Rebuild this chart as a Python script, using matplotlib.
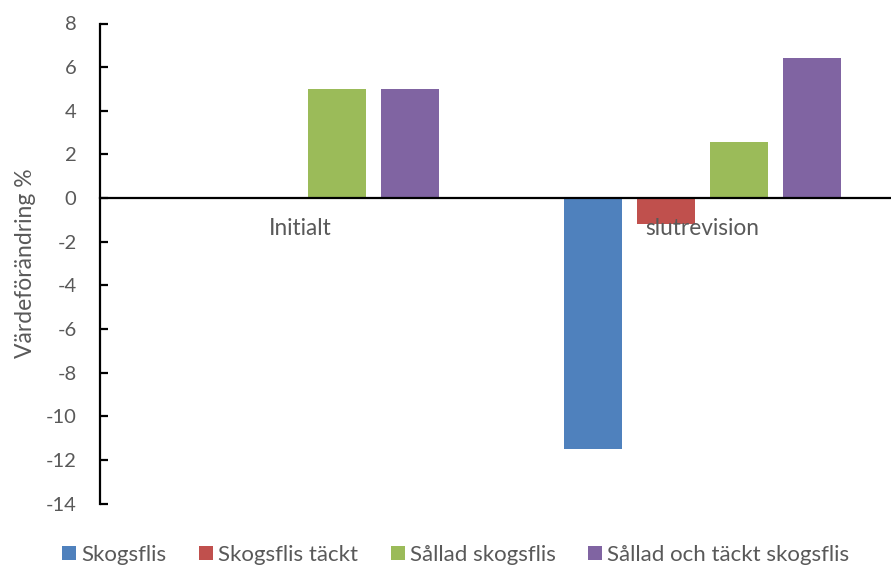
import matplotlib
matplotlib.use("Agg")
import matplotlib.pyplot as plt
import numpy as np

plt.rcParams['font.family'] = ['Lato', 'DejaVu Sans']

categories = ["Initialt", "slutrevision"]
series_names = ["Skogsflis", "Skogsflis täckt", "Sållad skogsflis", "Sållad och täckt skogsflis"]
skogsflis = [0.0, -11.5]
skogsflis_tackt = [0.0, -1.2]
sallad = [5.0, 2.55]
sallad_tackt = [5.0, 6.4]
y_ticks = list(range(-14, 9, 2))

colors = ["#4F81BD", "#C0504D", "#9BBB59", "#8064A2"]
text_color = "#595959"

fig = plt.figure(figsize=(8.91, 5.68), dpi=100)
ax = fig.add_axes([99.5 / 891, (568 - 503.7) / 568, 803.5 / 891, 480.2 / 568])

x = np.arange(len(categories))
step = 0.1817
width = 0.1444
for i, (vals, name, c) in enumerate(zip([skogsflis, skogsflis_tackt, sallad, sallad_tackt],
                                         series_names, colors)):
    ax.bar(x + (i - 1.5) * step, vals, width=width, color=c, label=name, zorder=1)

ax.set_xlim(-0.5, 1.5)
ax.set_ylim(-14, 8)
ax.set_yticks(y_ticks)
ax.set_yticklabels([str(t) for t in y_ticks])
ax.set_xticks(x)
ax.set_xticklabels(categories)

for s in ["top", "right"]:
    ax.spines[s].set_visible(False)
ax.spines["bottom"].set_position(("data", 0))
ax.spines["bottom"].set_linewidth(1.6)
ax.spines["left"].set_linewidth(1.6)
ax.spines["bottom"].set_zorder(3)

ax.tick_params(axis="y", direction="in", length=5.5, width=1.6, pad=16.5,
               labelsize=14.5, labelcolor=text_color)
ax.tick_params(axis="x", length=0, pad=14, labelsize=16.3, labelcolor=text_color)

ax.set_ylabel("Värdeförändring %", fontsize=16.5, color=text_color)
ax.yaxis.set_label_coords(-0.079, 0.5)

fig.legend(loc="center", bbox_to_anchor=(456 / 891, (568 - 555) / 568), ncol=4,
           frameon=False, fontsize=16, labelcolor=text_color,
           handlelength=0.63, handleheight=0.63, handletextpad=0.24,
           columnspacing=1.45, borderaxespad=0)

fig.savefig("out.png", dpi=100, facecolor="white")
